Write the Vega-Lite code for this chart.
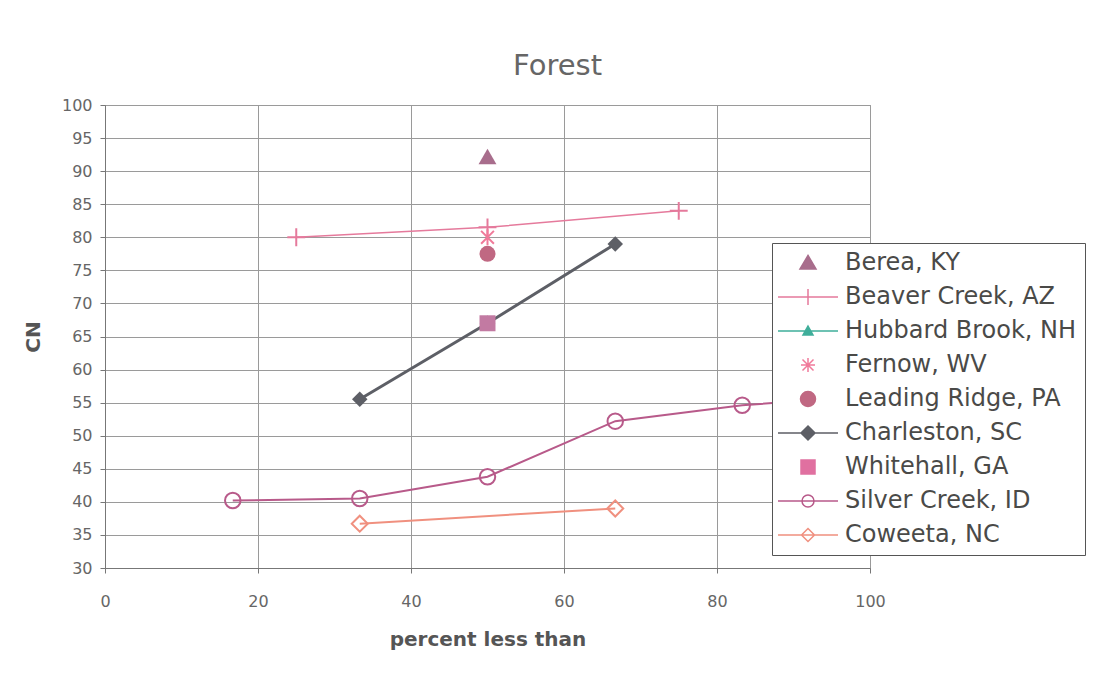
{
  "$schema": "https://vega.github.io/schema/vega-lite/v6.json",
  "width": 765,
  "height": 463,
  "autosize": {"type": "none"},
  "padding": {"left": 105, "top": 105, "right": 228, "bottom": 111},
  "background": "white",
  "title": {"text": "Forest", "font": "DejaVu Sans", "fontSize": 29, "fontWeight": "normal", "color": "#666666", "dx": 70, "offset": 16},
  "config": {
    "font": "DejaVu Sans",
    "view": {"stroke": "#888888", "strokeWidth": 1},
    "axis": {
      "gridColor": "#9a9a9a", "gridWidth": 1, "gridOpacity": 1,
      "domainColor": "#777777", "tickColor": "#777777", "tickSize": 5,
      "labelColor": "#666666", "labelFontSize": 16, "labelFont": "DejaVu Sans",
      "labelOverlap": false, "labelFlush": false,
      "titleColor": "#555555", "titleFontSize": 20, "titleFontWeight": "bold", "titleFont": "DejaVu Sans"
    },
    "legend": {
      "title": null, "orient": "none", "legendX": 667, "legendY": 138, "direction": "vertical",
      "fillColor": "white", "strokeColor": "#555555", "padding": 8,
      "labelFontSize": 24, "labelFont": "DejaVu Sans", "labelColor": "#4a4a48", "labelOffset": 41, "labelLimit": 400,
      "rowPadding": 10, "symbolSize": 400, "symbolStrokeWidth": 1.5, "symbolOpacity": 1,
      "symbolFillColor": "transparent", "symbolStrokeColor": "#555555"
    }
  },
  "data": {
    "values": [
      {"site": "Berea, KY", "pct": 50, "cn": 92.2},
      {"site": "Beaver Creek, AZ", "pct": 25, "cn": 80},
      {"site": "Beaver Creek, AZ", "pct": 50, "cn": 81.5},
      {"site": "Beaver Creek, AZ", "pct": 75, "cn": 84},
      {"site": "Fernow, WV", "pct": 50, "cn": 80},
      {"site": "Leading Ridge, PA", "pct": 50, "cn": 77.5},
      {"site": "Charleston, SC", "pct": 33.3, "cn": 55.5},
      {"site": "Charleston, SC", "pct": 50, "cn": 67},
      {"site": "Charleston, SC", "pct": 66.7, "cn": 79},
      {"site": "Whitehall, GA", "pct": 50, "cn": 67},
      {"site": "Silver Creek, ID", "pct": 16.7, "cn": 40.2},
      {"site": "Silver Creek, ID", "pct": 33.3, "cn": 40.5},
      {"site": "Silver Creek, ID", "pct": 50, "cn": 43.8},
      {"site": "Silver Creek, ID", "pct": 66.7, "cn": 52.2},
      {"site": "Silver Creek, ID", "pct": 83.3, "cn": 54.6},
      {"site": "Silver Creek, ID", "pct": 100, "cn": 56},
      {"site": "Coweeta, NC", "pct": 33.3, "cn": 36.7},
      {"site": "Coweeta, NC", "pct": 66.7, "cn": 39}
    ]
  },
  "encoding": {
    "x": {"field": "pct", "type": "quantitative", "scale": {"domain": [0, 100], "nice": false},
          "axis": {"values": [0, 20, 40, 60, 80, 100], "title": "percent less than", "labelPadding": 20, "titlePadding": 20, "labelOverlap": false, "labelFlush": false}},
    "y": {"field": "cn", "type": "quantitative", "scale": {"domain": [30, 100], "nice": false, "zero": false},
          "axis": {"values": [30, 35, 40, 45, 50, 55, 60, 65, 70, 75, 80, 85, 90, 95, 100], "title": "CN", "labelPadding": 8, "titlePadding": 18, "labelOverlap": false, "labelFlush": false}}
  },
  "resolve": {"scale": {"shape": "independent", "fill": "independent", "stroke": "independent"}},
  "layer": [
    {
      "transform": [{"filter": {"field": "site", "oneOf": ["Beaver Creek, AZ"]}}],
      "mark": {"type": "line", "strokeWidth": 1.5},
      "encoding": {
        "color": {"field": "site", "type": "nominal", "legend": null,
          "scale": {"domain": ["Berea, KY", "Beaver Creek, AZ", "Hubbard Brook, NH", "Fernow, WV", "Leading Ridge, PA", "Charleston, SC", "Whitehall, GA", "Silver Creek, ID", "Coweeta, NC"],
                    "range": ["#a86d8c", "#e57a9c", "#3fae9a", "#f07a9a", "#c06882", "#5d5f66", "#c27aa2", "#b85a8a", "#f0907f"]}},
        "order": {"field": "pct", "type": "quantitative"}
      }
    },
    {
      "transform": [{"filter": {"field": "site", "oneOf": ["Silver Creek, ID", "Coweeta, NC"]}}],
      "mark": {"type": "line", "strokeWidth": 2},
      "encoding": {
        "color": {"field": "site", "type": "nominal", "legend": null},
        "order": {"field": "pct", "type": "quantitative"}
      }
    },
    {
      "transform": [{"filter": {"field": "site", "oneOf": ["Charleston, SC"]}}],
      "mark": {"type": "line", "strokeWidth": 3},
      "encoding": {
        "color": {"field": "site", "type": "nominal", "legend": null},
        "order": {"field": "pct", "type": "quantitative"}
      }
    },
    {
      "transform": [{"filter": {"field": "site", "oneOf": ["Berea, KY", "Leading Ridge, PA", "Charleston, SC", "Whitehall, GA"]}}],
      "mark": {"type": "point", "filled": true, "opacity": 1},
      "encoding": {
        "color": {"field": "site", "type": "nominal", "legend": null},
        "shape": {"field": "site", "type": "nominal", "legend": null,
          "scale": {"domain": ["Berea, KY", "Leading Ridge, PA", "Charleston, SC", "Whitehall, GA"],
                    "range": ["triangle-up", "circle", "diamond", "square"]}},
        "size": {"field": "site", "type": "nominal", "legend": null,
          "scale": {"type": "ordinal", "domain": ["Berea, KY", "Leading Ridge, PA", "Charleston, SC", "Whitehall, GA"], "range": [320, 256, 240, 256]}}
      }
    },
    {
      "transform": [{"filter": {"field": "site", "oneOf": ["Beaver Creek, AZ", "Fernow, WV", "Silver Creek, ID", "Coweeta, NC"]}}],
      "mark": {"type": "point", "filled": false, "opacity": 1, "strokeWidth": 2},
      "encoding": {
        "color": {"field": "site", "type": "nominal", "legend": null},
        "shape": {"field": "site", "type": "nominal", "legend": null,
          "scale": {"domain": ["Beaver Creek, AZ", "Fernow, WV", "Silver Creek, ID", "Coweeta, NC"],
                    "range": ["M-1,0L1,0M0,-1L0,1", "M-0.8,-0.8L0.8,0.8M-0.8,0.8L0.8,-0.8M0,-1L0,1", "circle", "diamond"]}},
        "size": {"field": "site", "type": "nominal", "legend": null,
          "scale": {"type": "ordinal", "domain": ["Beaver Creek, AZ", "Fernow, WV", "Silver Creek, ID", "Coweeta, NC"], "range": [196, 100, 150, 160]}}
      }
    },
    {
      "transform": [{"filter": "datum.pct > 1000"}],
      "mark": {"type": "point", "filled": true, "opacity": 1},
      "encoding": {
        "fill": {"field": "site", "type": "nominal",
          "scale": {"domain": ["Berea, KY", "Beaver Creek, AZ", "Hubbard Brook, NH", "Fernow, WV", "Leading Ridge, PA", "Charleston, SC", "Whitehall, GA", "Silver Creek, ID", "Coweeta, NC"],
                    "range": ["#a86d8c", "transparent", "#3fae9a", "transparent", "#c06882", "#5d5f66", "#e070a0", "transparent", "transparent"]}},
        "stroke": {"field": "site", "type": "nominal",
          "scale": {"domain": ["Berea, KY", "Beaver Creek, AZ", "Hubbard Brook, NH", "Fernow, WV", "Leading Ridge, PA", "Charleston, SC", "Whitehall, GA", "Silver Creek, ID", "Coweeta, NC"],
                    "range": ["#a86d8c", "#e57a9c", "#3fae9a", "#f07a9a", "#c06882", "#5d5f66", "#e070a0", "#b85a8a", "#f0907f"]}},
        "shape": {"field": "site", "type": "nominal",
          "scale": {"domain": ["Berea, KY", "Beaver Creek, AZ", "Hubbard Brook, NH", "Fernow, WV", "Leading Ridge, PA", "Charleston, SC", "Whitehall, GA", "Silver Creek, ID", "Coweeta, NC"],
                    "range": [
                      "M1.6,-0.75L2.4,0.6L0.8,0.6Z",
                      "M-1.4,0L4.6,0M1.6,-0.8L1.6,0.8",
                      "M-1.4,0L4.6,0M1.6,-0.5L2.1,0.4L1.1,0.4Z",
                      "M1.05,-0.55L2.15,0.55M1.05,0.55L2.15,-0.55M1.6,-0.7L1.6,0.7M0.9,0L2.3,0",
                      "M0.85,0A0.75,0.75 0 1,0 2.35,0A0.75,0.75 0 1,0 0.85,0Z",
                      "M-1.4,0L4.6,0M1.6,-0.7L2.3,0L1.6,0.7L0.9,0Z",
                      "M0.9,-0.7L2.3,-0.7L2.3,0.7L0.9,0.7Z",
                      "M-1.4,0L4.6,0M1,0A0.6,0.6 0 1,0 2.2,0A0.6,0.6 0 1,0 1,0Z",
                      "M-1.4,0L4.6,0M1.6,-0.65L2.25,0L1.6,0.65L0.95,0Z"
                    ]}}
      }
    }
  ]
}
